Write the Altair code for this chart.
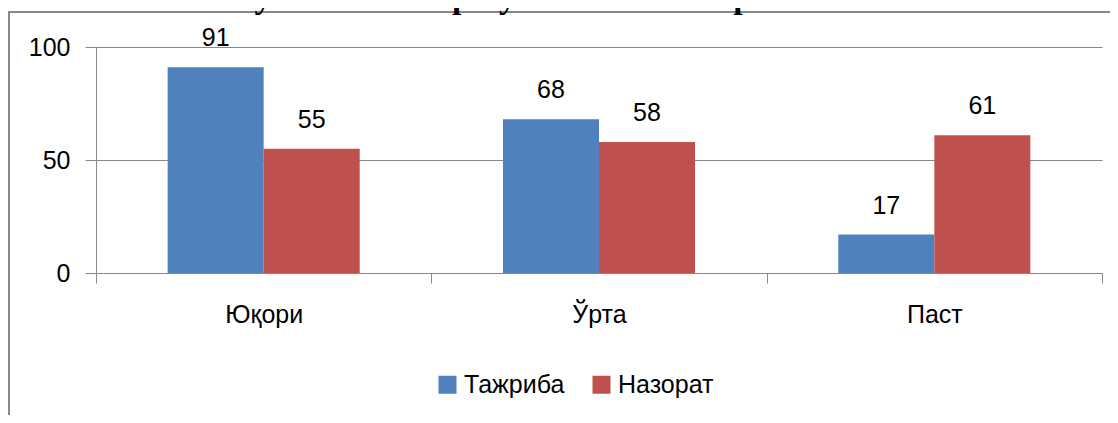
import altair as alt
import pandas as pd

categories = ["Юқори", "Ўрта", "Паст"]
series = ["Тажриба", "Назорат"]
tajriba = [91, 68, 17]
nazorat = [55, 58, 61]
colors = ["#4F81BD", "#C0504D"]
title_text = "учеников по результатам эксперимента"

rows = []
for i, c in enumerate(categories):
    rows.append({"cat": c, "series": series[0], "value": tajriba[i]})
    rows.append({"cat": c, "series": series[1], "value": nazorat[i]})
df = pd.DataFrame(rows)

FONT = "Liberation Sans"
GRAY = "#888888"

x_enc = alt.X(
    "cat:N",
    sort=categories,
    scale=alt.Scale(paddingInner=0, paddingOuter=0),
    axis=alt.Axis(
        title=None,
        labelAngle=0,
        tickBand="extent",
        tickSize=10,
        tickColor=GRAY,
        domainColor=GRAY,
        labelFontSize=25,
        labelFont=FONT,
        labelColor="#000000",
        labelPadding=19,
        grid=False,
    ),
)
xoff_enc = alt.XOffset(
    "series:N", sort=series, scale=alt.Scale(paddingInner=0, paddingOuter=0.746)
)
y_enc = alt.Y(
    "value:Q",
    scale=alt.Scale(domain=[0, 100], nice=False),
    axis=alt.Axis(
        title=None,
        values=[0, 50, 100],
        tickSize=11,
        tickColor=GRAY,
        domainColor=GRAY,
        gridColor=GRAY,
        grid=True,
        labelFontSize=25,
        labelFont=FONT,
        labelColor="#000000",
        labelPadding=15,
    ),
)
color_enc = alt.Color(
    "series:N",
    sort=series,
    scale=alt.Scale(domain=series, range=colors),
    legend=alt.Legend(
        title=None,
        orient="none",
        direction="horizontal",
        legendX=339,
        legendY=325,
        symbolType="square",
        symbolSize=324,
        symbolStrokeWidth=0,
        labelFontSize=25,
        labelFont=FONT,
        labelColor="#000000",
        labelOffset=4,
        columnPadding=24,
    ),
)

base = alt.Chart(df)
bars = base.mark_bar().encode(x=x_enc, xOffset=xoff_enc, y=y_enc, color=color_enc)
labels = base.mark_text(
    dy=-21, baseline="alphabetic", fontSize=25, font=FONT, color="#000000"
).encode(x=x_enc, xOffset=xoff_enc, y=y_enc, text="value:Q")

one = alt.Data(values=[{"t": title_text}])
left_border = alt.Chart(one).mark_rule(color=GRAY, strokeWidth=2).encode(
    x=alt.value(-87), y=alt.value(-35), y2=alt.value(368)
)
top_border = alt.Chart(one).mark_rule(color=GRAY, strokeWidth=2).encode(
    x=alt.value(-88), x2=alt.value(1014), y=alt.value(-35)
)
title = alt.Chart(one).mark_text(
    font="Liberation Serif", fontWeight="bold", fontSize=34, baseline="alphabetic",
    color="#000000", align="center"
).encode(x=alt.value(463), y=alt.value(-39), text="t:N")

chart = (
    alt.layer(bars, labels, left_border, top_border, title)
    .properties(
        width=1006,
        height=226,
        padding={"left": 88, "top": 39, "right": 8, "bottom": 142},
        autosize="none",
    )
    .configure_view(stroke=None)
)

chart.save("out.html", embed_options={"renderer": "svg", "actions": False})
